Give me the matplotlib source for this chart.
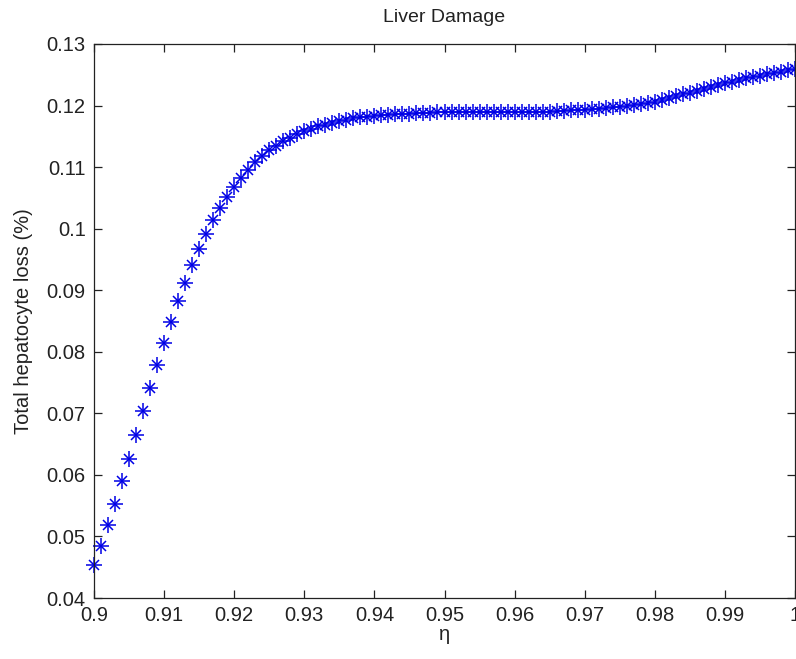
import numpy as np
import matplotlib
matplotlib.use('Agg')
import matplotlib.pyplot as plt
from matplotlib.ticker import FuncFormatter

plt.rcParams['font.family'] = ['Liberation Sans', 'DejaVu Sans']

# eta from 0.9 to 1.0, step 0.001
eta = np.round(np.arange(0.9, 1.0005, 0.001), 3)

loss = [
    0.0453, 0.0485, 0.0519, 0.0553, 0.0590, 0.0626, 0.0664, 0.0703, 0.0741, 0.0778,
    0.0815, 0.0849, 0.0882, 0.0912, 0.0941, 0.0967, 0.0992, 0.1014, 0.1034, 0.1052,
    0.1068, 0.1083, 0.1096, 0.1108, 0.1118, 0.1127, 0.1135, 0.1142, 0.1148, 0.1153,
    0.1158, 0.1162, 0.1166, 0.1169, 0.1172, 0.1175, 0.1177, 0.1179, 0.1181, 0.1182,
    0.1183, 0.1184, 0.1185, 0.1186, 0.1187, 0.1187, 0.1188, 0.1188, 0.1188, 0.1189,
    0.1189, 0.1189, 0.1189, 0.1189, 0.1189, 0.1189, 0.1189, 0.1189, 0.1189, 0.1189,
    0.1189, 0.1190, 0.1190, 0.1190, 0.1190, 0.1190, 0.1191, 0.1191, 0.1192, 0.1192,
    0.1193, 0.1194, 0.1195, 0.1196, 0.1197, 0.1198, 0.1200, 0.1201, 0.1203, 0.1204,
    0.1206, 0.1209, 0.1212, 0.1215, 0.1218, 0.1221, 0.1224, 0.1227, 0.1230, 0.1233,
    0.1236, 0.1239, 0.1241, 0.1244, 0.1246, 0.1248, 0.1251, 0.1253, 0.1255, 0.1257,
    0.1259,
]

xticks = [0.9, 0.91, 0.92, 0.93, 0.94, 0.95, 0.96, 0.97, 0.98, 0.99, 1.0]
yticks = [0.04, 0.05, 0.06, 0.07, 0.08, 0.09, 0.1, 0.11, 0.12, 0.13]

fig = plt.figure(figsize=(7.96, 6.59), dpi=100)
ax = fig.add_axes([94 / 796, 1 - 598 / 659, 701 / 796, 554 / 659])

# matlab style '*' marker = plus + cross
ax.plot(eta, loss, linestyle='none', marker='+', markersize=11,
        markeredgewidth=1.1, color='#0000e6', clip_on=False)
ax.plot(eta, loss, linestyle='none', marker='x', markersize=7,
        markeredgewidth=1.1, color='#0000e6', clip_on=False)

ax.set_xlim(0.9, 1.0)
ax.set_ylim(0.04, 0.13)
ax.set_xticks(xticks)
ax.set_yticks(yticks)
fmt = FuncFormatter(lambda v, p: '%g' % round(v, 3))
ax.xaxis.set_major_formatter(fmt)
ax.yaxis.set_major_formatter(fmt)
ax.tick_params(direction='in', length=6, width=0.9, top=True, right=True,
               labelsize=14.5, colors='#222222')
ax.tick_params(axis='x', pad=6)
ax.tick_params(axis='y', pad=6)
for s in ax.spines.values():
    s.set_linewidth(0.9)
    s.set_color('#222222')

ax.set_title('Liver Damage', fontsize=14, pad=16, color='#222222')
ax.set_xlabel('η', fontsize=14.5, labelpad=0, color='#222222')
ax.set_ylabel('Total hepatocyte loss (%)', fontsize=14.5, labelpad=10, color='#222222')

fig.savefig('out.png', dpi=100)
